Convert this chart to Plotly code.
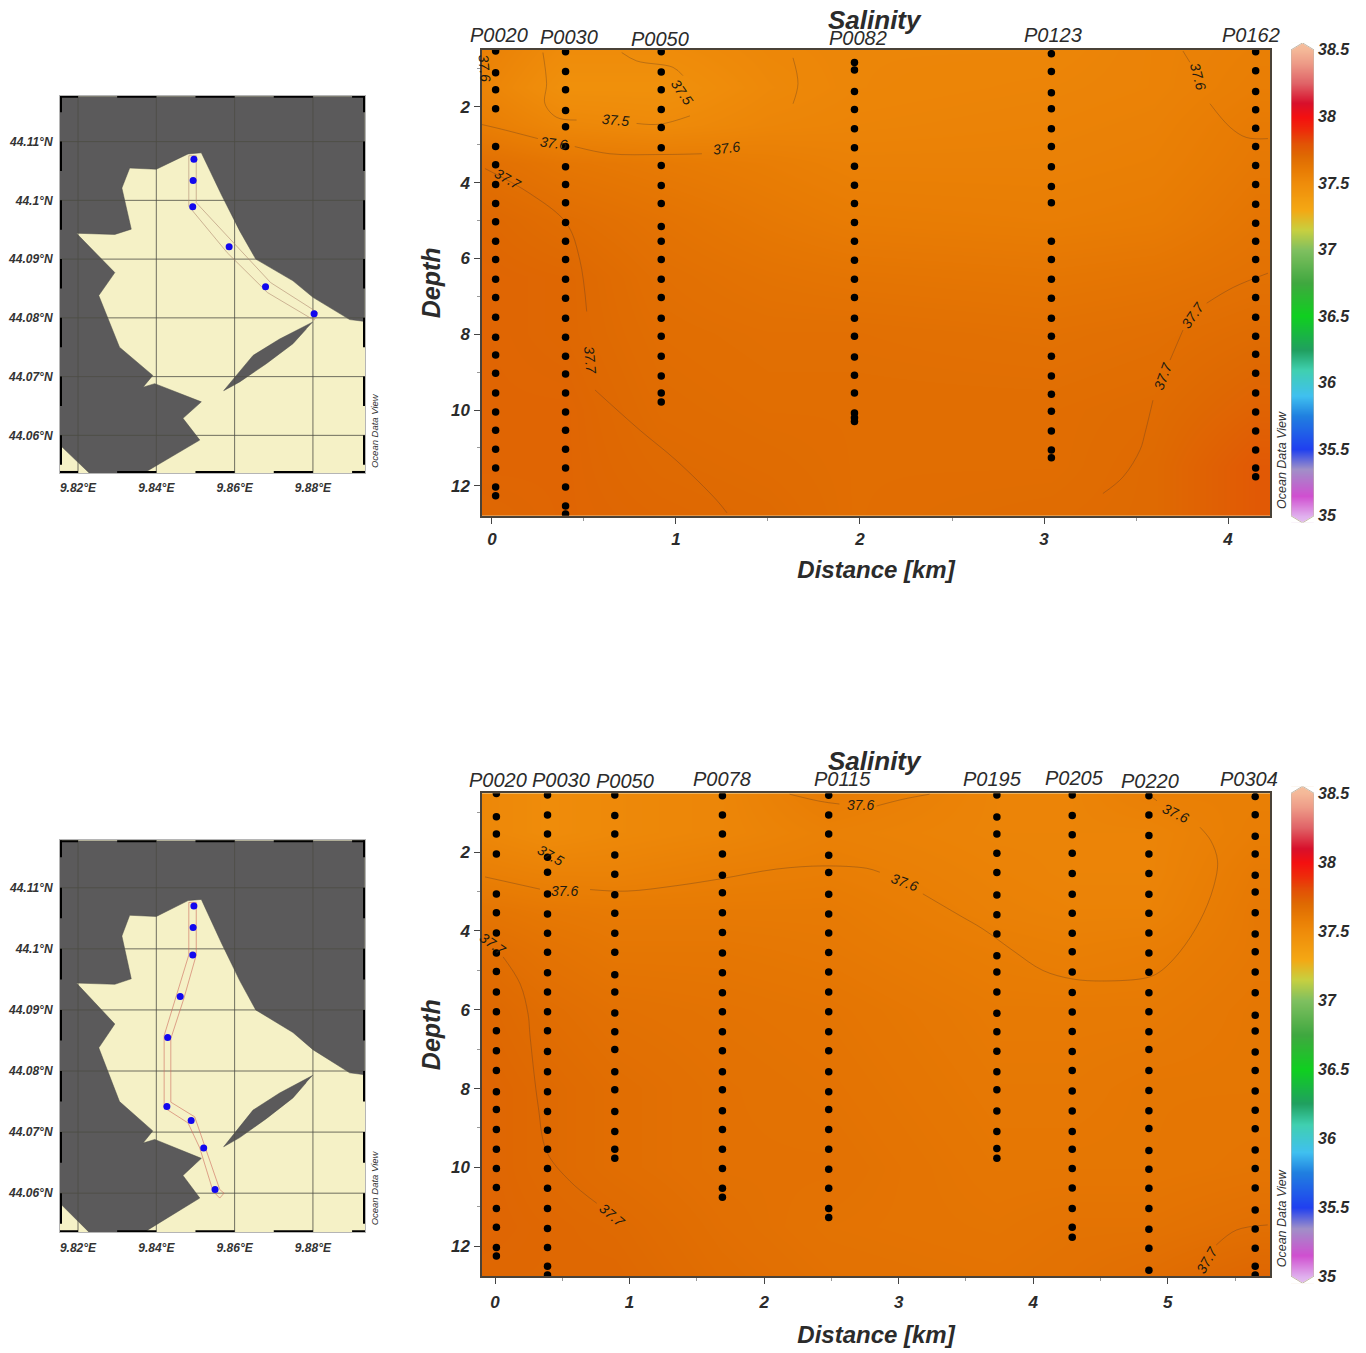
import plotly.graph_objects as go

W, H = 1366, 1353
FONT = "Liberation Sans"
INK = "#2b2b2b"

# ---------- colour scale ----------
cbar_values = [34.95, 35.0, 35.15, 35.35, 35.5, 35.75, 35.9, 36.1, 36.25, 36.5, 36.75, 37.0, 37.15,
               37.3, 37.5, 37.6, 37.7, 37.8, 37.9, 38.0, 38.1, 38.25, 38.4, 38.5, 38.6]
cbar_colors = ["#e4c0f0", "#e0b0ee", "#d050d0", "#a090c8", "#2040f0", "#2080e0", "#40c0f0", "#40d0b0",
               "#20a060", "#10d020", "#40a840", "#80c060", "#c8d040", "#f4a814", "#ef8c0a", "#e87c04",
               "#df6a02", "#e25206", "#ee2c0a", "#f41010", "#d8102c", "#e06468", "#ee9c88", "#f4b898", "#f6c4a0"]
cbar_ticks = [35, 35.5, 36, 36.5, 37, 37.5, 38, 38.5]
ZMIN, ZMAX = cbar_values[0], cbar_values[-1]
colorscale = [[(v - ZMIN) / (ZMAX - ZMIN), c] for v, c in zip(cbar_values, cbar_colors)]

# ---------- section A ----------
a_names = ["P0020", "P0030", "P0050", "P0082", "P0123", "P0162"]
a_km = [0.02, 0.40, 0.92, 1.97, 3.04, 4.15]
a_depths = [
    [.53,1.10,1.55,2.05,3.05,3.53,4.05,4.55,5.03,5.55,6.03,6.55,7.03,7.55,8.08,8.55,9.03,9.55,10.05,10.53,11.03,11.53,12.03,12.26],
    [.55,1.07,1.55,2.10,2.53,3.05,3.58,4.05,4.53,5.05,5.55,6.03,6.55,7.05,7.58,8.08,8.58,9.05,9.55,10.05,10.53,11.03,11.53,12.03,12.53,12.74],
    [.55,1.08,1.55,2.07,2.55,3.08,3.55,4.08,4.55,5.16,5.55,6.03,6.55,7.03,7.58,8.05,8.58,9.10,9.55,9.79],
    [.83,1.03,1.60,2.07,2.58,3.08,3.57,4.07,4.55,5.05,5.55,6.05,6.55,7.03,7.58,8.05,8.60,9.08,9.55,10.08,10.20,10.30],
    [.60,1.07,1.63,2.05,2.58,3.05,3.58,4.10,4.53,5.55,6.03,6.55,7.05,7.58,8.05,8.58,9.10,9.58,10.03,10.55,11.05,11.26],
    [.55,1.05,1.60,2.08,2.57,3.05,3.55,4.05,4.57,5.07,5.55,6.03,6.55,7.03,7.55,8.05,8.53,9.03,9.55,10.05,10.55,11.05,11.53,11.76],
]
a_grid_km = [-0.06, 0.40, 0.92, 1.50, 1.97, 3.04, 3.60, 4.15, 4.24]
a_grid_depth = [0.5, 1.5, 2.5, 3.5, 5.0, 6.5, 8.0, 10.0, 11.5, 12.8]
a_salinity_by_km = [
    [37.57,37.55,37.59,37.67,37.71,37.72,37.72,37.72,37.72,37.71],
    [37.50,37.47,37.53,37.63,37.68,37.71,37.71,37.72,37.72,37.72],
    [37.50,37.47,37.51,37.61,37.65,37.67,37.68,37.69,37.70,37.71],
    [37.53,37.52,37.54,37.59,37.62,37.65,37.67,37.68,37.69,37.70],
    [37.54,37.54,37.55,37.57,37.60,37.64,37.67,37.68,37.68,37.68],
    [37.54,37.55,37.56,37.57,37.59,37.63,37.66,37.68,37.68,37.69],
    [37.56,37.56,37.57,37.58,37.60,37.64,37.67,37.69,37.70,37.70],
    [37.58,37.59,37.61,37.62,37.64,37.66,37.69,37.73,37.77,37.77],
    [37.58,37.59,37.61,37.62,37.64,37.66,37.69,37.73,37.77,37.77],
]
a_isolines = [
    ([.277,.297,.288,.352,.46], [.57,1.39,1.92,2.28,2.35]),
    ([.786,.913,1.076], [2.44,2.46,2.24]),
    ([.705,.786,.984,1.038], [.57,.79,.96,1.18]),
    ([1.636,1.663,1.636], [.71,1.39,1.92]),
    ([-.054,.043,.25], [2.47,2.58,2.84]),
    ([.45,.641,.913,1.141], [3.05,3.24,3.26,3.24]),
    ([-.038,.207,.406,.478,.515], [3.63,4.29,5.08,6.05,7.4]),
    ([.56,.804,1.0,1.22,1.277], [9.47,10.53,11.32,12.37,12.71]),
    ([3.755,3.793], [.53,.83]),
    ([3.902,4.011,4.1,4.217], [1.92,2.54,2.81,2.84]),
    ([3.884,4.03,4.217], [7.18,6.76,6.39]),
    ([3.755,3.685], [7.89,8.68]),
    ([3.592,3.549,3.522,3.43,3.32], [9.74,10.6,11.05,11.76,12.2]),
]
a_iso_text = ["37.5", "37.5", "37.6", "37.6", "37.7", "37.6", "37.7", "37.6", "37.7", "37.7"]

# ---------- section B ----------
b_names = ["P0020", "P0030", "P0050", "P0078", "P0115", "P0195", "P0205", "P0220", "P0304"]
b_km = [0.01, 0.39, 0.89, 1.69, 2.48, 3.73, 4.29, 4.86, 5.65]
b_depths = [
    [.51,1.10,1.54,2.05,3.06,3.54,4.05,4.56,5.03,5.55,6.05,6.53,7.04,7.54,8.08,8.53,9.04,9.54,10.03,10.51,11.04,11.52,12.03,12.25],
    [.55,1.06,1.54,2.13,2.51,3.06,3.57,4.06,4.54,5.06,5.55,6.05,6.53,7.06,7.57,8.08,8.58,9.06,9.54,10.03,10.53,11.04,11.55,12.03,12.51,12.73],
    [.55,1.07,1.54,2.07,2.56,3.08,3.55,4.06,4.54,5.11,5.55,6.08,6.56,7.01,7.57,8.03,8.58,9.09,9.54,9.77],
    [.57,1.06,1.54,2.05,2.59,3.03,3.54,4.04,4.56,5.06,5.57,6.05,6.56,7.04,7.57,8.03,8.56,9.04,9.54,10.03,10.53,10.76],
    [.56,1.06,1.54,2.08,2.52,3.07,3.57,4.05,4.55,5.04,5.55,6.05,6.56,7.04,7.57,8.08,8.53,9.04,9.54,10.05,10.53,11.04,11.27],
    [.55,1.11,1.54,2.03,2.52,3.09,3.59,4.08,4.63,5.04,5.55,6.09,6.56,7.05,7.57,8.03,8.57,9.09,9.52,9.77],
    [.55,1.07,1.56,2.03,2.54,3.07,3.55,4.06,4.53,5.04,5.56,6.06,6.55,7.06,7.54,8.06,8.57,9.09,9.54,10.03,10.52,11.04,11.52,11.77],
    [.57,1.06,1.58,2.05,2.54,3.07,3.55,4.05,4.56,5.05,5.57,6.05,6.56,7.01,7.54,8.05,8.56,9.01,9.57,10.05,10.53,11.04,11.57,12.05,12.61],
    [.59,1.05,1.60,2.05,2.59,3.01,3.54,4.08,4.53,5.04,5.57,6.14,6.54,7.07,7.54,8.06,8.55,9.02,9.56,10.03,10.52,11.08,11.56,12.05,12.51,12.73],
]
b_grid_km = [-0.11, 0.39, 0.89, 1.69, 2.48, 3.73, 4.29, 4.86, 5.65, 5.78]
b_grid_depth = [0.5, 1.5, 2.5, 3.5, 4.5, 6.0, 8.0, 10.0, 11.5, 12.8]
b_salinity_by_km = [
    [37.53,37.53,37.58,37.64,37.68,37.71,37.72,37.72,37.72,37.71],
    [37.50,37.50,37.56,37.62,37.65,37.68,37.70,37.70,37.71,37.71],
    [37.52,37.52,37.56,37.61,37.63,37.66,37.68,37.68,37.70,37.71],
    [37.54,37.54,37.58,37.61,37.63,37.65,37.66,37.66,37.67,37.68],
    [37.60,37.57,37.59,37.61,37.62,37.64,37.65,37.66,37.65,37.66],
    [37.55,37.55,37.56,37.57,37.59,37.61,37.62,37.63,37.64,37.65],
    [37.55,37.55,37.55,37.56,37.58,37.61,37.62,37.63,37.65,37.66],
    [37.58,37.55,37.55,37.56,37.59,37.61,37.63,37.63,37.65,37.68],
    [37.58,37.59,37.61,37.62,37.62,37.63,37.63,37.64,37.67,37.72],
    [37.58,37.59,37.61,37.62,37.62,37.63,37.63,37.64,37.67,37.72],
]
b_isolines = [
    ([-.074,.334], [2.63,2.94]),
    ([.706,.978,1.35,1.672,2.093,2.44,2.762,2.86], [2.95,2.99,2.85,2.68,2.43,2.35,2.41,2.51]),
    ([3.18,3.455,3.626,3.85,4.07,4.294,4.52,4.84,4.94,5.09,5.24,5.34,5.37,5.32,5.24],
     [3.06,3.61,3.95,4.5,5.0,5.22,5.27,5.19,5.04,4.53,3.74,2.89,2.22,1.71,1.37]),
    ([4.92,4.87], [.7,.57]),
    ([2.19,2.415,2.56], [.53,.71,.78]),
    ([2.835,3.03,3.23], [.83,.66,.53]),
    ([.06,.186,.245,.26,.32,.384,.557,.756], [4.66,5.34,6.1,6.66,8.43,9.6,10.35,10.91]),
    ([5.743,5.51,5.36], [11.46,11.59,11.97]),
]
b_iso_text = ["37.6", "37.5", "37.6", "37.6", "37.6", "37.7", "37.7", "37.7"]

# ---------- maps ----------
land_lon = [9.8153,9.8932,9.8932,9.8894,9.8800,9.8749,9.8654,9.8613,9.8566,9.8515,9.8481,9.8400,9.8332,9.8312,9.8336,
            9.8294,9.8196,9.8294,9.8253,9.8306,9.8391,9.8366,9.8396,9.8515,9.8468,9.8511,9.8366,9.8230,9.8153]
land_lat = [44.1177,44.1177,44.0794,44.0797,44.0835,44.0863,44.0900,44.0948,44.1010,44.1081,44.1079,44.1053,44.1055,44.1021,44.0951,
            44.0942,44.0944,44.0877,44.0838,44.0750,44.0702,44.0682,44.0688,44.0657,44.0629,44.0592,44.0535,44.0535,44.0584]
island_lon = [9.8800,9.8715,9.8647,9.8596,9.8572,9.8613,9.8681,9.8749,9.8783]
island_lat = [44.0793,44.0764,44.0736,44.0694,44.0676,44.0691,44.0722,44.0756,44.0781]

a_station_lon = [9.8496,9.8494,9.8493,9.8586,9.8679,9.8803]
a_station_lat = [44.1070,44.1034,44.0989,44.0921,44.0853,44.0807]
b_station_lon = [9.8496,9.8494,9.8493,9.8461,9.8429,9.8427,9.8489,9.8521,9.8550]
b_station_lat = [44.1070,44.1035,44.0990,44.0922,44.0855,44.0742,44.0719,44.0674,44.0606]

a_swath_lon = [9.8483,9.8502,9.8502,9.8596,9.8692,9.8812,9.8803,9.8684,9.8581,9.8483,9.8483]
a_swath_lat = [44.1076,44.1076,44.0996,44.0928,44.0860,44.0809,44.0796,44.0843,44.0911,44.0990,44.1076]
b_swath_lon = [9.8483,9.8502,9.8502,9.8470,9.8437,9.8437,9.8498,9.8562,9.8573,9.8562,9.8545,9.8511,9.8481,9.8420,9.8420,9.8451,9.8483,9.8483]
b_swath_lat = [44.1076,44.1076,44.0990,44.0918,44.0853,44.0749,44.0725,44.0606,44.0600,44.0592,44.0603,44.0674,44.0715,44.0740,44.0858,44.0923,44.0990,44.1076]

map_lon_ticks = [9.82, 9.84, 9.86, 9.88]
map_lon_text = ["9.82°E", "9.84°E", "9.86°E", "9.88°E"]
map_lat_ticks = [44.06, 44.07, 44.08, 44.09, 44.10, 44.11]
map_lat_text = ["44.06°N", "44.07°N", "44.08°N", "44.09°N", "44.1°N", "44.11°N"]
LON0, LON1, LAT0, LAT1 = 9.8154, 9.8933, 44.0536, 44.1178
frame_lon_black = [(LON0, 9.82), (9.83, 9.84), (9.85, 9.86), (9.87, 9.88), (9.89, LON1)]
frame_lat_black = [(44.115, LAT1), (44.105, 44.11), (44.095, 44.10), (44.085, 44.09),
                   (44.075, 44.08), (44.065, 44.07), (44.055, 44.06)]


def px_x(x):
    return x / W


def px_y(y):
    return 1 - y / H


def dom_x(a, b):
    return [a / W, b / W]


def dom_y(top, bottom):
    return [1 - bottom / H, 1 - top / H]


def font(size, bold=False, italic=True, color=INK):
    return dict(family=FONT, size=size, color=color, style="italic" if italic else "normal",
                weight=700 if bold else 400)


fig = go.Figure()
annotations = []


def text(t, x, y, size, bold=False, rot=0, color=INK):
    annotations.append(dict(text=t, x=px_x(x), y=px_y(y), xref="paper", yref="paper", showarrow=False,
                            font=font(size, bold, True, color), textangle=rot, xanchor="center", yanchor="middle"))


def add_map(n, top, bottom, st_lon, st_lat, sw_lon, sw_lat, sw_color):
    xa, ya = f"x{n}", f"y{n}"
    line_k = dict(xaxis=xa, yaxis=ya, hoverinfo="skip", showlegend=False)
    fig.add_trace(go.Scatter(x=land_lon, y=land_lat, mode="lines", fill="toself", fillcolor="#5b5a5b",
                             line=dict(color="#4a4a4a", width=0.5), **line_k))
    fig.add_trace(go.Scatter(x=island_lon, y=island_lat, mode="lines", fill="toself", fillcolor="#5b5a5b",
                             line=dict(color="#4a4a4a", width=0.5), **line_k))
    gx, gy = [], []
    for v in map_lon_ticks:
        gx += [v, v, None]
        gy += [LAT0, LAT1, None]
    for v in map_lat_ticks:
        gx += [LON0, LON1, None]
        gy += [v, v, None]
    fig.add_trace(go.Scatter(x=gx, y=gy, mode="lines", line=dict(color="#4c4c44", width=0.8), **line_k))
    fig.add_trace(go.Scatter(x=sw_lon, y=sw_lat, mode="lines", line=dict(color=sw_color, width=0.6), **line_k))
    fx, fy = [], []
    for a, b in frame_lon_black:
        fx += [a, b, None, a, b, None]
        fy += [LAT0, LAT0, None, LAT1, LAT1, None]
    for a, b in frame_lat_black:
        fx += [LON0, LON0, None, LON1, LON1, None]
        fy += [a, b, None, a, b, None]
    fig.add_trace(go.Scatter(x=fx, y=fy, mode="lines", line=dict(color="#000000", width=4), cliponaxis=False, **line_k))
    fig.add_trace(go.Scatter(x=st_lon, y=st_lat, mode="markers", marker=dict(color="#1208ee", size=7), name="stations",
                             xaxis=xa, yaxis=ya, showlegend=False))
    fig.update_layout({
        f"xaxis{n}": dict(domain=dom_x(60, 365), range=[LON0, LON1], anchor=ya, tickvals=map_lon_ticks,
                          ticktext=map_lon_text, tickfont=font(12, True, True, "#333"), showgrid=False, zeroline=False,
                          ticks="outside", ticklen=4, tickcolor="rgba(0,0,0,0)", showline=True, mirror=True,
                          linecolor="#b5b5b5", linewidth=1),
        f"yaxis{n}": dict(domain=dom_y(top, bottom), range=[LAT0, LAT1], anchor=xa, tickvals=map_lat_ticks,
                          ticktext=map_lat_text, tickfont=font(12, True, True, "#333"), showgrid=False, zeroline=False,
                          ticks="outside", ticklen=4, tickcolor="rgba(0,0,0,0)", showline=True, mirror=True,
                          linecolor="#b5b5b5", linewidth=1),
    })


def add_section(n, top, bottom, xrange, yrange, grid_km, grid_depth, sal_by_km, isolines, km, depths, xticks,
                tick_standoff, title_standoff):
    xa, ya = f"x{n}", f"y{n}"
    z = [[col[i] for col in sal_by_km] for i in range(len(grid_depth))]
    fig.add_trace(go.Heatmap(x=grid_km, y=grid_depth, z=z, zmin=ZMIN, zmax=ZMAX, colorscale=colorscale, zsmooth="best",
                             showscale=False, xaxis=xa, yaxis=ya))
    for lx, ly in isolines:
        fig.add_trace(go.Scatter(x=lx, y=ly, mode="lines", line=dict(color="rgba(95,60,35,0.45)", width=0.8, shape="spline"),
                                 xaxis=xa, yaxis=ya, hoverinfo="skip", showlegend=False))
    for k, ds in zip(km, depths):
        fig.add_trace(go.Scatter(x=[k] * len(ds), y=ds, mode="markers", marker=dict(color="#000000", size=7.5),
                                 xaxis=xa, yaxis=ya, showlegend=False))
    fig.update_layout({
        f"xaxis{n}": dict(domain=dom_x(482, 1270), range=xrange, anchor=ya, tickvals=xticks,
                          tickfont=font(17, True), ticks="outside", ticklen=6, tickcolor="#444", ticklabelstandoff=tick_standoff,
                          showline=True, mirror=True, linecolor="#4a4238", linewidth=1.5, showgrid=False, zeroline=False,
                          minor=dict(dtick=0.5, tick0=0, ticks="outside", ticklen=3, tickcolor="#999"),
                          title=dict(text="Distance [km]", font=font(24, True), standoff=title_standoff)),
        f"yaxis{n}": dict(domain=dom_y(top, bottom), range=yrange, anchor=xa, tickvals=[2, 4, 6, 8, 10, 12],
                          tickfont=font(17, True), ticks="outside", ticklen=6, tickcolor="#444", ticklabelstandoff=1,
                          showline=True, mirror=True, linecolor="#4a4238", linewidth=1.5, showgrid=False, zeroline=False,
                          minor=dict(dtick=1, tick0=0, ticks="outside", ticklen=3, tickcolor="#999"),
                          title=dict(text="Depth", font=font(25, True), standoff=3)),
    })


def add_cbar(n, top, bottom):
    xa, ya = f"x{n}", f"y{n}"
    span = (bottom - top) / 3.5
    tip_hi, tip_lo = 38.5 + 7 / span, 35 - 7 / span
    fig.add_trace(go.Heatmap(x=[0, 1], y=cbar_values, z=[[v, v] for v in cbar_values], zmin=ZMIN, zmax=ZMAX,
                             colorscale=colorscale, zsmooth="best", showscale=False, xaxis=xa, yaxis=ya, hoverinfo="skip"))
    for cx, y0, y1 in [(0, 38.5, tip_hi), (1, 38.5, tip_hi), (0, 35, tip_lo), (1, 35, tip_lo)]:
        fig.add_trace(go.Scatter(x=[cx, 0.5, cx, cx], y=[y0, y1, y1, y0], mode="lines", fill="toself", fillcolor="#ffffff",
                                 line=dict(color="#ffffff", width=1), xaxis=xa, yaxis=ya, hoverinfo="skip", showlegend=False))
    fig.add_trace(go.Scatter(x=[0, 0.5, 1, 1, 0.5, 0, 0], y=[38.5, tip_hi, 38.5, 35, tip_lo, 35, 38.5], mode="lines",
                             line=dict(color="#c4b8a8", width=1), xaxis=xa, yaxis=ya, hoverinfo="skip", showlegend=False))
    fig.update_layout({
        f"xaxis{n}": dict(domain=dom_x(1291, 1314), range=[0, 1], anchor=ya, visible=False),
        f"yaxis{n}": dict(domain=dom_y(top - 7, bottom + 7), range=[tip_lo, tip_hi], anchor=xa, side="right",
                          tickvals=cbar_ticks, ticktext=[f"{v:g}" for v in cbar_ticks], tickfont=font(16, True),
                          ticks="", showline=False, showgrid=False, zeroline=False, ticklabelstandoff=3),
    })


add_map(1, 95, 473, a_station_lon, a_station_lat, a_swath_lon, a_swath_lat, "#b08a70")
add_section(2, 49, 516, [-0.054, 4.228], [12.79, 0.5], a_grid_km, a_grid_depth, a_salinity_by_km, a_isolines, a_km, a_depths,
            [0, 1, 2, 3, 4], 1, 13)
add_cbar(3, 49, 516)
add_map(4, 841, 1234, b_station_lon, b_station_lat, b_swath_lon, b_swath_lat, "#cc6a5c")
add_section(5, 794, 1278, [-0.097, 5.76], [12.76, 0.506], b_grid_km, b_grid_depth, b_salinity_by_km, b_isolines, b_km, b_depths,
            [0, 1, 2, 3, 4, 5], 4, 15)
add_cbar(6, 794, 1278)

# titles, station names, isoline labels, watermarks
text("Salinity", 875, 19, 26, True)
text("Salinity", 875, 762, 26, True)
a_name_px = [(499.5, 34), (569, 36), (660, 38), (858, 37), (1053, 34), (1251, 34)]
b_name_px = [(498, 781), (561, 781), (625, 782), (722, 780), (842, 780), (992, 780), (1074, 779), (1150, 782), (1249, 780)]
for name, (x, y) in zip(a_names, a_name_px):
    text(name, x, y, 20)
for name, (x, y) in zip(b_names, b_name_px):
    text(name, x, y, 20)
a_iso_px = [(615, 119, 5), (681.7, 91.7, 55), (553, 142, 8), (726.7, 147.7, -8), (508, 178, 30),
            (485, 66.7, 85), (590, 360, 85), (1198, 75, 75), (1193, 315, -55), (1163, 376, -70)]
b_iso_px = [(860, 806, 0), (550, 856, 30), (564, 892, 0), (904, 883, 20), (1175, 814, 25),
            (493, 945, 35), (612, 1217, 40), (1207, 1262, -60)]
for t, (x, y, r) in zip(a_iso_text, a_iso_px):
    text(t, x, y, 14, False, r, "#221a10")
for t, (x, y, r) in zip(b_iso_text, b_iso_px):
    text(t, x, y, 14, False, r, "#221a10")
for x, y, s in [(374, 431, 9.5), (374, 1190, 9.5), (1282, 460, 12.5), (1282, 1220, 12.5)]:
    text("Ocean Data View", x, y, s, False, -90, "#333")

fig.update_layout(width=W, height=H, autosize=False, margin=dict(l=0, r=0, t=0, b=0), paper_bgcolor="#ffffff",
                  plot_bgcolor="#f5f1c6", showlegend=False, annotations=annotations)

fig.write_html("out.html", config={"displayModeBar": False},
               post_script="document.body.style.margin='0';document.body.style.overflow='hidden';")
